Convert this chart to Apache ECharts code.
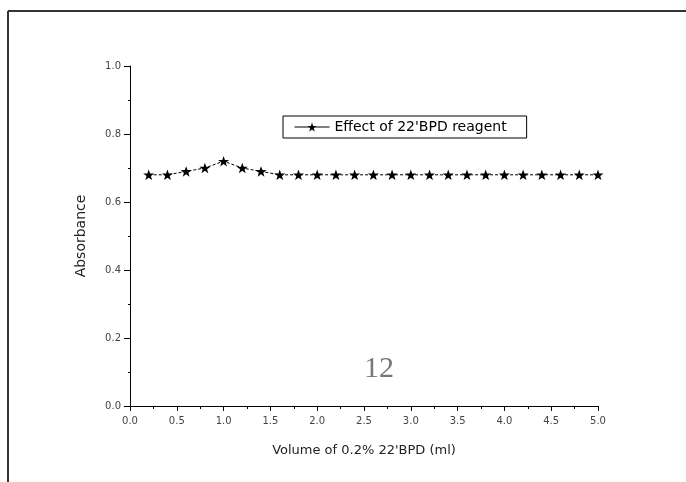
<!DOCTYPE html>
<html lang="en">

<head>
    <meta charset="UTF-8">
    <title>Effect of 22'BPD reagent</title>
    <script src="https://cdn.jsdelivr.net/npm/echarts/dist/echarts.min.js"></script>
    <style>
        body { margin: 0; background: #fff; }
    </style>
</head>

<body>
    <div id="chart" style="width: 686px; height: 482px;"></div>
    <script>
        // volume of reagent (ml) and measured absorbance
        const volumes = [0.2, 0.4, 0.6, 0.8, 1.0, 1.2, 1.4, 1.6, 1.8, 2.0, 2.2, 2.4, 2.6, 2.8, 3.0,
            3.2, 3.4, 3.6, 3.8, 4.0, 4.2, 4.4, 4.6, 4.8, 5.0];
        const absorbance = [0.68, 0.68, 0.69, 0.70, 0.72, 0.70, 0.69, 0.68, 0.68, 0.68, 0.68, 0.68, 0.68,
            0.68, 0.68, 0.68, 0.68, 0.68, 0.68, 0.68, 0.68, 0.68, 0.68, 0.68, 0.68];
        const seriesName = "Effect of 22'BPD reagent";

        const star = 'path://M0,-10L2.35,-3.24L9.51,-3.09L3.8,1.24L5.88,8.09L0,4L-5.88,8.09L-3.8,1.24L-9.51,-3.09L-2.35,-3.24Z';

        const chart = echarts.init(document.getElementById('chart'));

        const options = {
            animation: false,
            textStyle: { fontFamily: 'DejaVu Sans, sans-serif' },
            grid: { left: 130, top: 66, right: 88, bottom: 76 },
            legend: {
                left: 283,
                top: 116,
                itemWidth: 35,
                itemHeight: 11,
                itemGap: 4,
                padding: [4, 20, 4, 11],
                borderColor: '#000',
                borderWidth: 1,
                borderRadius: 0,
                lineStyle: { type: 'solid', width: 1 },
                textStyle: { fontSize: 14, color: '#000' },
                data: [seriesName]
            },
            xAxis: {
                type: 'value',
                min: 0,
                max: 5,
                interval: 0.5,
                name: 'Volume of 0.2% 22\'BPD (ml)',
                nameLocation: 'middle',
                nameGap: 38,
                nameTextStyle: { fontSize: 13, color: '#222' },
                axisLine: { lineStyle: { color: '#000', width: 1 } },
                axisTick: { length: 5, lineStyle: { color: '#000' } },
                minorTick: { show: true, splitNumber: 2, length: 3, lineStyle: { color: '#000' } },
                axisLabel: { fontSize: 10, color: '#444', margin: 10, formatter: v => v.toFixed(1) },
                splitLine: { show: false }
            },
            yAxis: {
                type: 'value',
                min: 0,
                max: 1,
                interval: 0.2,
                name: 'Absorbance',
                nameLocation: 'middle',
                nameGap: 42,
                nameTextStyle: { fontSize: 14, color: '#222' },
                axisLine: { show: true, lineStyle: { color: '#000', width: 1 } },
                axisTick: { show: true, length: 6, lineStyle: { color: '#000' } },
                minorTick: { show: true, splitNumber: 2, length: 2, lineStyle: { color: '#000' } },
                axisLabel: { fontSize: 10, color: '#444', margin: 9, formatter: v => v.toFixed(1) },
                splitLine: { show: false }
            },
            series: [
                {
                    name: seriesName,
                    type: 'line',
                    data: volumes.map((v, i) => [v, absorbance[i]]),
                    symbol: star,
                    symbolSize: 11,
                    symbolKeepAspect: true,
                    showAllSymbol: true,
                    itemStyle: { color: '#000' },
                    lineStyle: { color: '#000', width: 1, type: [3, 2] }
                }
            ],
            graphic: [
                // page frame
                { type: 'line', shape: { x1: 8, y1: 11, x2: 8, y2: 482 }, style: { stroke: '#333', lineWidth: 2 } },
                { type: 'line', shape: { x1: 8, y1: 11, x2: 686, y2: 11 }, style: { stroke: '#333', lineWidth: 2 } },
                {
                    type: 'text',
                    left: 364,
                    top: 354,
                    style: { text: '12', fontFamily: 'Liberation Serif, serif', fontSize: 30, fill: '#777' }
                }
            ]
        };

        chart.setOption(options);
    </script>
</body>

</html>
